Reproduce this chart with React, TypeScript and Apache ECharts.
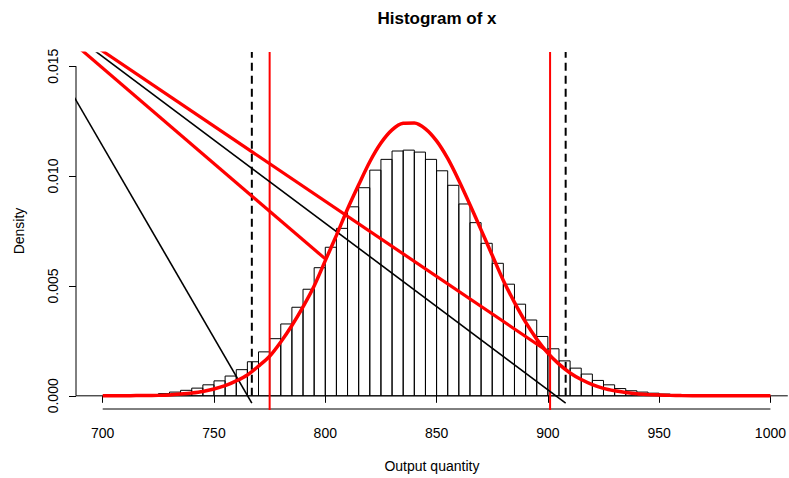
import React, { useEffect, useRef } from "react";
import * as echarts from "echarts";

// Histogram bins (left edges) and densities
const binStarts = [720, 725, 730, 735, 740, 745, 750, 755, 760, 765, 770, 775, 780, 785, 790, 795, 800, 805, 810, 815, 820, 825, 830, 835, 840, 845, 850, 855, 860, 865, 870, 875, 880, 885, 890, 895, 900, 905, 910, 915, 920, 925, 930, 935, 940, 945, 950];
const binDensity = [0.00005, 0.0001, 0.00017, 0.00025, 0.00035, 0.0005, 0.00068, 0.0009, 0.00119, 0.00155, 0.002, 0.0026, 0.00327, 0.00403, 0.00485, 0.00583, 0.00676, 0.00762, 0.0086, 0.00947, 0.01027, 0.01076, 0.01114, 0.01118, 0.01109, 0.01076, 0.01024, 0.00958, 0.00873, 0.00788, 0.00694, 0.00603, 0.00508, 0.00417, 0.00345, 0.0027, 0.00214, 0.00159, 0.00126, 0.00099, 0.0007, 0.0005, 0.00033, 0.00023, 0.00017, 0.00012, 0.00008];
const binWidth = 5;

// Red density curve
const curveX = [700, 705, 710, 715, 720, 725, 730, 735, 740, 745, 750, 755, 760, 765, 770, 775, 780, 785, 790, 795, 800, 805, 810, 815, 820, 825, 830, 835, 840, 845, 850, 855, 860, 865, 870, 875, 880, 885, 890, 895, 900, 905, 910, 915, 920, 925, 930, 935, 940, 945, 950, 955, 960, 970, 980, 990, 1000];
const curveY = [0, 0, 0, 0.00001, 0.00001, 0.00002, 0.00004, 0.00008, 0.00013, 0.0002, 0.00031, 0.00046, 0.00068, 0.00095, 0.00135, 0.0018, 0.00245, 0.0032, 0.00405, 0.005, 0.00615, 0.0073, 0.0085, 0.0096, 0.01065, 0.0115, 0.0121, 0.0124, 0.01242, 0.01215, 0.0116, 0.0108, 0.0098, 0.0087, 0.00755, 0.0064, 0.00525, 0.00425, 0.00335, 0.00258, 0.00194, 0.00144, 0.00104, 0.00074, 0.00051, 0.00034, 0.00023, 0.00015, 0.00009, 0.00006, 0.00004, 0.00002, 0.00001, 0, 0, 0, 0];

// Reference lines
const dashedX = [767, 908];
const redVerticalX = [775, 901];
const blackSegments = [
  [[684, 0.01415], [767, -0.00033]],
  [[690, 0.01619], [908, -0.00033]],
];
const redSegments = [
  [[690, 0.01578], [800, 0.00623]],
  [[690, 0.01637], [901, 0.00195]],
];

const xTicks = [700, 750, 800, 850, 900, 950, 1000];
const yTicks = [0, 0.005, 0.01, 0.015];
const xMin = 688;
const xMax = 1007.8;
const yMin = -0.0006;
const yMax = 0.0156;

const FONT = "'Liberation Sans', Arial, Helvetica, sans-serif";

export default function App() {
  const ref = useRef<HTMLDivElement>(null);
  useEffect(() => {
    if (!ref.current) return;
    const chart = echarts.init(ref.current, null, { renderer: "svg" });

    const lineSeries = (data: number[][], color: string, width: number, type: any = "solid", clip = true) => ({
      type: "line",
      data,
      symbol: "none",
      silent: true,
      clip,
      lineStyle: { color, width, type, cap: "butt" },
      z: 5,
    });

    const series: any[] = [
      {
        type: "custom",
        data: binStarts.map((s, i) => [s, s + binWidth, binDensity[i]]),
        encode: { x: [0, 1], y: 2 },
        silent: true,
        z: 2,
        renderItem: (params: any, api: any) => {
          const p0 = api.coord([api.value(0), 0]);
          const p1 = api.coord([api.value(1), api.value(2)]);
          return {
            type: "rect",
            shape: { x: p0[0], y: p1[1], width: p1[0] - p0[0], height: p0[1] - p1[1] },
            style: { fill: "none", stroke: "#000", lineWidth: 1 },
          };
        },
      },
      // baseline h=0
      lineSeries([[xMin, 0], [xMax, 0]], "#000", 1),
      // axis lines
      lineSeries([[xTicks[0], yMin], [xTicks[xTicks.length - 1], yMin]], "#000", 1, "solid", false),
      lineSeries([[xMin, yTicks[0]], [xMin, yTicks[yTicks.length - 1]]], "#000", 1, "solid", false),
      // curve
      {
        type: "line",
        data: curveX.map((x, i) => [x, curveY[i]]),
        symbol: "none",
        smooth: 0.3,
        silent: true,
        lineStyle: { color: "#ff0000", width: 3.5 },
        z: 6,
      },
    ];
    dashedX.forEach((x) => series.push(lineSeries([[x, 0], [x, 0.02]], "#000", 2, [8, 5])));
    redVerticalX.forEach((x) => series.push(lineSeries([[x, -0.002], [x, 0.02]], "#ff0000", 2)));
    blackSegments.forEach((s) => series.push(lineSeries(s, "#000", 1.6)));
    redSegments.forEach((s) => series.push(lineSeries(s, "#ff0000", 3.2)));

    chart.setOption({
      animation: false,
      backgroundColor: "#ffffff",
      textStyle: { fontFamily: FONT },
      grid: { left: 76, top: 53, right: 0, height: 356, containLabel: false },
      graphic: [
        {
          type: "text",
          x: 437,
          y: 18,
          style: {
            text: "Histogram of x",
            font: `bold 17px ${FONT}`,
            fill: "#000",
            textAlign: "center",
            textVerticalAlign: "middle",
          },
        },
      ],
      xAxis: {
        type: "value",
        min: xMin,
        max: xMax,
        splitLine: { show: false },
        axisLine: { show: false },
        axisTick: { show: true, customValues: xTicks, length: 7, lineStyle: { color: "#000", width: 1 } },
        axisLabel: {
          customValues: xTicks,
          color: "#000",
          fontSize: 14,
          margin: 17,
          fontFamily: FONT,
          formatter: (v: number) => String(Math.round(v)),
        },
        name: "Output quantity",
        nameLocation: "middle",
        nameGap: 50,
        nameTextStyle: { color: "#000", fontSize: 14, fontFamily: FONT },
      },
      yAxis: {
        type: "value",
        min: yMin,
        max: yMax,
        splitLine: { show: false },
        axisLine: { show: false },
        axisTick: { show: true, customValues: yTicks, length: 7, lineStyle: { color: "#000", width: 1 } },
        axisLabel: {
          customValues: yTicks,
          color: "#000",
          fontSize: 14,
          margin: 16,
          rotate: 90,
          fontFamily: FONT,
          formatter: (v: number) => v.toFixed(3),
        },
        name: "Density",
        nameLocation: "middle",
        nameGap: 50,
        nameTextStyle: { color: "#000", fontSize: 14, fontFamily: FONT },
      },
      series,
    });
    return () => chart.dispose();
  }, []);
  return (
    <div
      ref={ref}
      style={{ position: "absolute", left: 0, top: 0, width: 789, height: 478, background: "#fff" }}
    />
  );
}
